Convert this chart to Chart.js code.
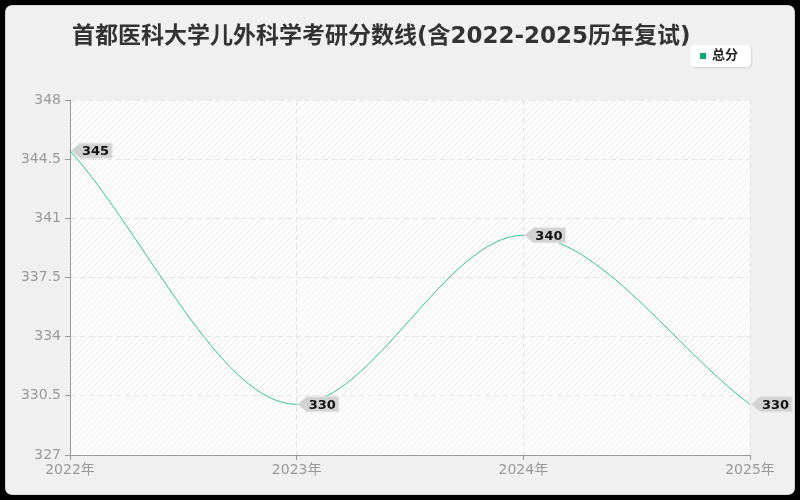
<!DOCTYPE html>
<html>
<head>
<meta charset="utf-8">
<script src="https://cdn.jsdelivr.net/npm/chart.js@4"></script>
<style>
  html, body { margin: 0; padding: 0; background: #000; }
  #wrap { width: 800px; height: 500px; }
</style>
</head>
<body>
<div id="wrap"><canvas id="scoreChart" width="800" height="500"></canvas></div>
<script>
const years = ["2022年", "2023年", "2024年", "2025年"];
const totalScores = [345, 330, 340, 330];
const yTicks = [327, 330.5, 334, 337.5, 341, 344.5, 348];
const titleText = "首都医科大学儿外科学考研分数线(含2022-2025历年复试)";
const seriesName = "总分";

const FONT = "'DejaVu Sans', 'Noto Sans CJK SC', sans-serif";
const lineColor = "#35c191";

function makeHatch(bg, line) {
  const c = document.createElement("canvas");
  c.width = 6; c.height = 6;
  const g = c.getContext("2d");
  g.fillStyle = bg;
  g.fillRect(0, 0, 6, 6);
  g.strokeStyle = line;
  g.lineWidth = 1;
  g.beginPath();
  g.moveTo(0, 6); g.lineTo(6, 0);
  g.moveTo(-3, 3); g.lineTo(3, -3);
  g.moveTo(3, 9); g.lineTo(9, 3);
  g.stroke();
  return c;
}

function roundRect(ctx, x, y, w, h, r) {
  ctx.beginPath();
  ctx.moveTo(x + r, y);
  ctx.lineTo(x + w - r, y);
  ctx.quadraticCurveTo(x + w, y, x + w, y + r);
  ctx.lineTo(x + w, y + h - r);
  ctx.quadraticCurveTo(x + w, y + h, x + w - r, y + h);
  ctx.lineTo(x + r, y + h);
  ctx.quadraticCurveTo(x, y + h, x, y + h - r);
  ctx.lineTo(x, y + r);
  ctx.quadraticCurveTo(x, y, x + r, y);
  ctx.closePath();
}

// frame, banded hatched plot background
const backdrop = {
  id: "backdrop",
  beforeDraw(chart) {
    const ctx = chart.ctx;
    const area = chart.chartArea;
    const y = chart.scales.y;
    ctx.save();
    ctx.fillStyle = "#000";
    ctx.fillRect(0, 0, chart.width, chart.height);
    roundRect(ctx, 5.5, 5.5, chart.width - 11, chart.height - 11, 7);
    ctx.fillStyle = "#f0f0f0";
    ctx.fill();
    ctx.strokeStyle = "#d8d8d8";
    ctx.lineWidth = 1;
    ctx.stroke();

    const strong = ctx.createPattern(makeHatch("#ffffff", "#e8e8e8"), "repeat");
    const faint = ctx.createPattern(makeHatch("#fbfbfb", "#f3f3f3"), "repeat");
    for (let i = 0; i < yTicks.length - 1; i++) {
      const top = y.getPixelForValue(yTicks[i + 1]);
      const bottom = y.getPixelForValue(yTicks[i]);
      ctx.fillStyle = (yTicks.length - 2 - i) % 2 === 0 ? strong : faint;
      ctx.fillRect(area.left, top, area.right - area.left, bottom - top);
    }
    ctx.restore();
  },
  afterDraw(chart) {
    const ctx = chart.ctx;
    ctx.save();
    // title
    ctx.font = "bold 23px " + FONT;
    ctx.fillStyle = "#333";
    ctx.textBaseline = "middle";
    ctx.textAlign = "left";
    ctx.fillText(titleText, 72, 37);

    // legend
    ctx.shadowColor = "rgba(0,0,0,0.12)";
    ctx.shadowBlur = 2;
    ctx.shadowOffsetX = 1;
    ctx.shadowOffsetY = 1;
    roundRect(ctx, 690, 45, 61, 22, 5);
    ctx.fillStyle = "#fff";
    ctx.fill();
    ctx.shadowColor = "transparent";
    ctx.fillStyle = "#10a873";
    ctx.fillRect(700, 53, 6, 6);
    ctx.font = "bold 13px " + FONT;
    ctx.fillStyle = "#222";
    ctx.fillText(seriesName, 712, 56);

    // value callouts
    const meta = chart.getDatasetMeta(0);
    ctx.font = "bold 13px " + FONT;
    meta.data.forEach((pt, i) => {
      const label = String(totalScores[i]);
      const tw = ctx.measureText(label).width;
      const x0 = pt.x + 1;
      const yc = pt.y;
      const bx = x0 + 9;
      const bw = tw + 5;
      const bh = 15;
      ctx.beginPath();
      ctx.moveTo(x0, yc);
      ctx.lineTo(bx, yc - bh / 2);
      ctx.lineTo(bx + bw, yc - bh / 2);
      ctx.lineTo(bx + bw, yc + bh / 2);
      ctx.lineTo(bx, yc + bh / 2);
      ctx.closePath();
      ctx.fillStyle = "#d2d2d2";
      ctx.fill();
      ctx.strokeStyle = "#e4e4e4";
      ctx.lineWidth = 1;
      ctx.stroke();
      ctx.fillStyle = "#111";
      ctx.textAlign = "left";
      ctx.fillText(label, bx + 2, yc + 1);
    });
    ctx.restore();
  }
};

const scoreChart = new Chart("scoreChart", {
  type: "line",
  data: {
    labels: years,
    datasets: [{
      label: seriesName,
      data: totalScores,
      borderColor: lineColor,
      borderWidth: 1,
      pointRadius: 0,
      fill: false,
      cubicInterpolationMode: "monotone"
    }]
  },
  options: {
    responsive: false,
    animation: false,
    layout: { padding: { top: 100, right: 50, left: 0, bottom: 0 } },
    plugins: {
      legend: { display: false },
      title: { display: false },
      tooltip: { enabled: false }
    },
    scales: {
      x: {
        offset: false,
        grid: {
          color: "#e2e2e2",
          tickColor: "#999",
          tickLength: 5,
          drawTicks: true
        },
        border: { color: "#999", dash: [5, 4] },
        ticks: {
          color: "#999",
          font: { size: 14, family: FONT },
          padding: 2,
          maxRotation: 0
        },
        afterFit(scale) { scale.height = 45; }
      },
      y: {
        min: 327,
        max: 348,
        afterBuildTicks(scale) {
          scale.ticks = yTicks.map(v => ({ value: v }));
        },
        grid: {
          color: "#e6e6e6",
          tickColor: "#999",
          tickLength: 5
        },
        border: { color: "#999", dash: [5, 4] },
        ticks: {
          color: "#999",
          font: { size: 14, family: FONT },
          padding: 4,
          callback: v => String(v)
        },
        afterFit(scale) { scale.width = 70; }
      }
    }
  },
  plugins: [backdrop]
});
</script>
</body>
</html>
